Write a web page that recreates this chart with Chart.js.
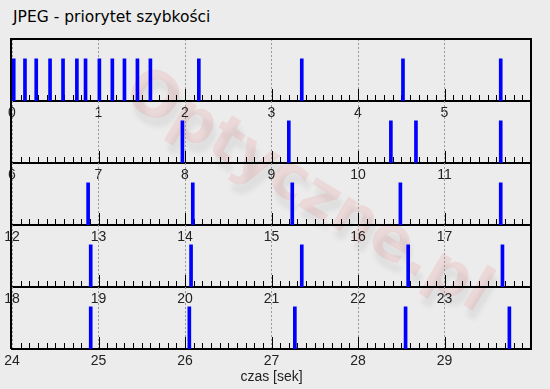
<!DOCTYPE html>
<html>
<head>
<meta charset="utf-8">
<script src="https://cdn.jsdelivr.net/npm/chart.js@4.4.1/dist/chart.umd.min.js"></script>
<style>
  body { margin: 0; width: 550px; height: 389px; overflow: hidden; position: relative; background: #ececec; }
  #title { position: absolute; left: 13px; top: 8px; font: 15.5px "DejaVu Sans"; color: #000; white-space: nowrap; }
  #wm { position: absolute; left: 310px; top: 188px; transform: translate(-50%, -50%) rotate(31deg);
        font: bold 62px "DejaVu Sans"; color: rgba(230, 20, 20, 0.09); white-space: nowrap;
        text-shadow: 7px 7px 5px rgba(0, 0, 0, 0.06); }
  canvas { position: absolute; left: 0; }
</style>
</head>
<body>
<div id="wm">Optyczne.pl</div>
<div id="title">JPEG - priorytet szybkości</div>

<script>
// times (seconds) at which a frame was saved
const frameTimes = [
  0.02, 0.15, 0.28, 0.44, 0.59, 0.75, 0.85, 1.01, 1.16, 1.30, 1.45, 1.60, 2.16, 3.35, 4.52, 5.65,
  7.97, 9.20, 10.38, 10.67, 11.65,
  12.88, 14.09, 15.24, 16.49, 17.65,
  18.91, 20.07, 21.35, 22.58, 23.67,
  24.91, 26.05, 27.27, 28.55, 29.75
];
const panelStarts = [0, 6, 12, 18, 24];
const PANEL_SECONDS = 6;
const MARK_LEVEL = 0.68;
const X_TITLE = 'czas [sek]';

const PANEL_TOP = 39, PANEL_H = 62, PAD = 2;

// short ticks every 0.1 s, long at every second, pointing up into the panel
const tickMarks = {
  id: 'tickMarks',
  beforeDatasetsDraw(chart) {
    const {ctx, chartArea: a, scales: {x}} = chart;
    ctx.save();
    ctx.strokeStyle = '#000';
    ctx.lineWidth = 1;
    ctx.beginPath();
    for (let i = 1; i < PANEL_SECONDS * 10; i++) {
      const px = Math.round(x.getPixelForValue(x.min + i / 10)) + 0.5;
      const len = i % 10 === 0 ? 12 : 6;
      ctx.moveTo(px, a.bottom);
      ctx.lineTo(px, a.bottom - len);
    }
    ctx.stroke();
    ctx.restore();
  },
  afterDraw(chart, args, opts) {
    const {ctx, chartArea: a} = chart;
    ctx.save();
    ctx.strokeStyle = '#000';
    ctx.lineWidth = 2;
    ctx.beginPath();
    ctx.moveTo(a.left - 1, a.bottom);
    ctx.lineTo(a.left - 1, a.top);
    if (opts.top) ctx.lineTo(a.right, a.top);
    else ctx.moveTo(a.right, a.top);
    ctx.lineTo(a.right, a.bottom);
    ctx.stroke();
    ctx.restore();
  }
};

panelStarts.forEach((start, k) => {
  const last = k === panelStarts.length - 1;
  const axisH = last ? 40 : 24;
  const canvas = document.createElement('canvas');
  canvas.width = 550;
  canvas.height = PAD + PANEL_H + axisH;
  canvas.style.top = (PANEL_TOP + PANEL_H * k - PAD) + 'px';
  document.body.appendChild(canvas);

  const times = frameTimes.filter(t => t >= start && t < start + PANEL_SECONDS);

  new Chart(canvas, {
    type: 'bar',
    data: {
      datasets: [{
        data: times.map(t => ({x: t, y: MARK_LEVEL})),
        backgroundColor: '#0000ff',
        borderWidth: 0,
        barThickness: 3
      }]
    },
    options: {
      responsive: false,
      animation: false,
      devicePixelRatio: 1,
      layout: {padding: {left: 12, right: 19, top: PAD, bottom: 0}},
      plugins: {
        legend: {display: false},
        tooltip: {enabled: false},
        tickMarks: {top: k === 0}
      },
      scales: {
        x: {
          type: 'linear',
          min: start,
          max: start + PANEL_SECONDS,
          offset: false,
          afterBuildTicks: s => { s.ticks = s.ticks.filter(t => t.value < s.max); },
          afterFit: s => { s.height = axisH; },
          ticks: {
            stepSize: 1,
            maxRotation: 0,
            autoSkip: false,
            padding: 4,
            color: '#222',
            font: {family: 'Liberation Sans', size: 14}
          },
          grid: {
            offset: false,
            drawTicks: false,
            color: '#999',
            lineWidth: 1
          },
          border: {display: true, color: '#000', width: 2, dash: [2, 2]},
          title: {
            display: last,
            text: X_TITLE,
            color: '#222',
            font: {family: 'Liberation Sans', size: 14},
            padding: {top: 0, bottom: 3}
          }
        },
        y: {display: false, min: 0, max: 1}
      }
    },
    plugins: [tickMarks]
  });
});
</script>
</body>
</html>
